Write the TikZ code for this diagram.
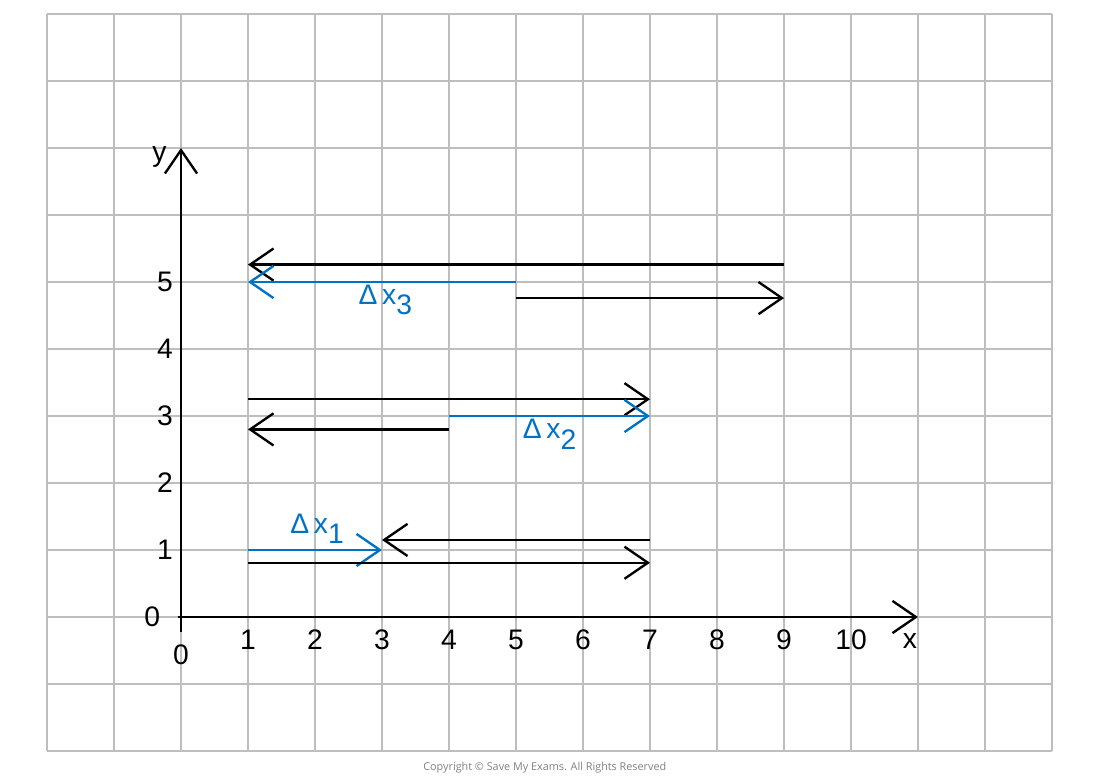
\documentclass[tikz,border=0pt]{standalone}
\usepackage{fontspec}
\setmainfont{Liberation Sans}
\newfontfamily\copyfont{Open Sans}
\usetikzlibrary{arrows.meta}
\definecolor{smeblue}{RGB}{0,114,198}
\definecolor{gridgrey}{RGB}{190,190,190}
\tikzset{
  chev/.style={-{Straight Barb[length=3.5mm,width=4.8mm,line width=1pt]}},
  disp/.style={chev,line width=1pt},
  bluedisp/.style={disp,smeblue},
  axis/.style={chev,line width=1pt},
  lab/.style={font=\fontsize{12}{14}\selectfont},
  dlab/.style={lab,text=smeblue}
}
\newcommand{\dx}[1]{Δ\,x\raisebox{-0.7ex}{#1}}
\begin{document}
\begin{tikzpicture}[scale=1]
	\useasboundingbox (-2.7015,-2.4478) rectangle (13.7164,9.2090);
	\draw[gridgrey,line width=0.6pt] (-2,-2) grid (13,9);
	% axes
	\draw[axis] (-0.05,0) -- (11,0);
	\draw[axis] (0,-0.22) -- (0,7);
	\node[lab] (xl) at (10.88,-0.36) {x};
	\node[lab] (yl) at (-0.32,6.86) {y};
	\foreach \i in {1,...,10}
		\node[lab] at (\i,-0.34) {\i};
	\node[lab] at (0,-0.57) {0};
	\node[lab] at (-0.43,0) {0};
	\foreach \j in {1,...,5}
		\node[lab] at (-0.24,\j) {\j};
	% displacements
	\draw[disp] (9,5.26) -- (1,5.26);
	\draw[bluedisp] (5,5) -- (1,5);
	\draw[disp] (5,4.76) -- (9,4.76);
	\draw[disp] (1,3.25) -- (7,3.25);
	\draw[bluedisp] (4,3) -- (7,3);
	\draw[disp] (4,2.8) -- (1,2.8);
	\draw[disp] (7,1.15) -- (3,1.15);
	\draw[bluedisp] (1,1) -- (3,1);
	\draw[disp] (1,0.81) -- (7,0.81);
	\node[dlab] at (3.05,4.73) {\dx{3}};
	\node[dlab] at (5.5,2.73) {\dx{2}};
	\node[dlab] at (2.03,1.32) {\dx{1}};
	\node[text=gray,font=\copyfont\fontsize{4.6}{5}\selectfont] at (5.43,-2.25) {Copyright © Save My Exams. All Rights Reserved};
\end{tikzpicture}
\end{document}
